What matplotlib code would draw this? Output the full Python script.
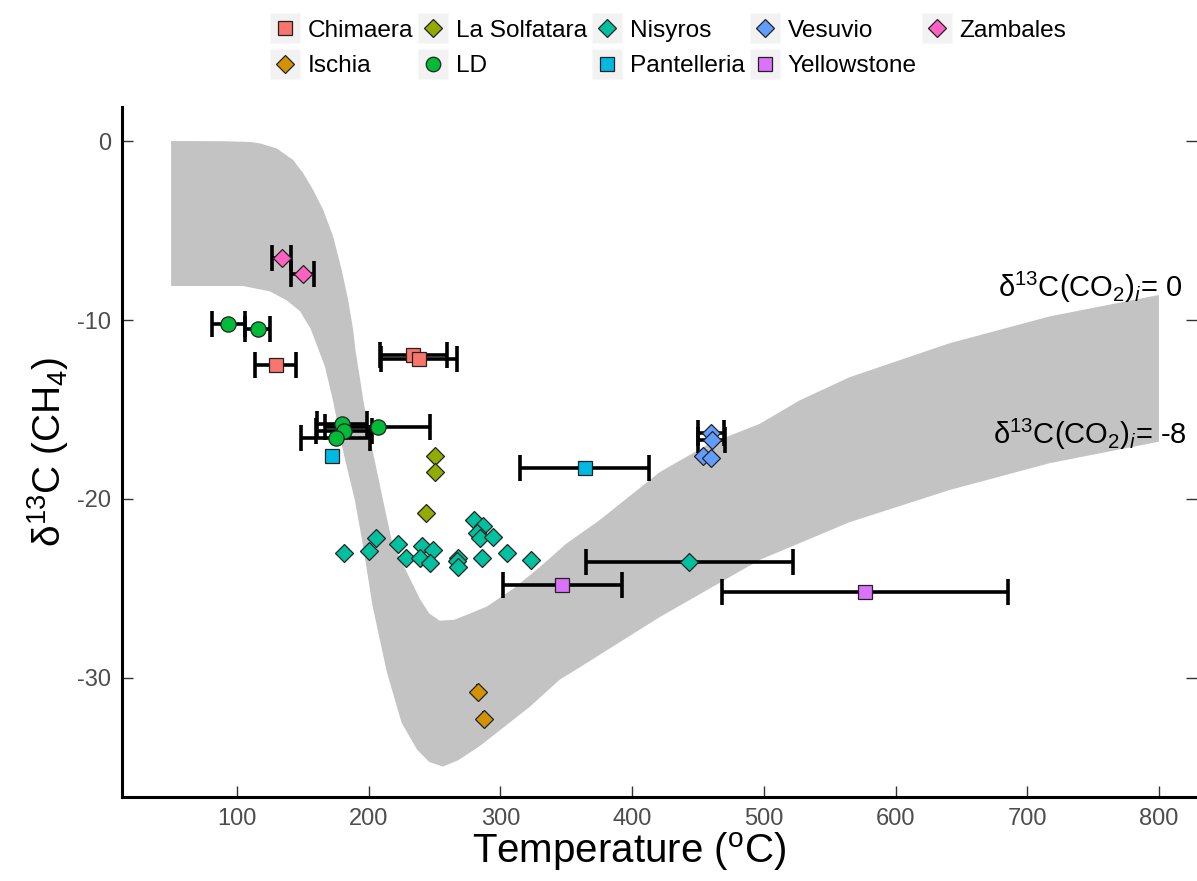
import numpy as np
import matplotlib
matplotlib.use("Agg")
import matplotlib.pyplot as plt
from matplotlib.lines import Line2D

plt.rcParams["font.family"] = ["Liberation Sans", "DejaVu Sans"]
plt.rcParams["mathtext.fontset"] = "custom"
plt.rcParams["mathtext.rm"] = "Liberation Sans"
plt.rcParams["mathtext.it"] = "Liberation Sans:italic"
plt.rcParams["mathtext.bf"] = "Liberation Sans:bold"
plt.rcParams["axes.unicode_minus"] = False

# model band: upper edge is d13C(CO2)i = 0, lower edge is d13C(CO2)i = -8
band_top_t = [50, 90, 110, 117.5, 130.1, 142.7, 150.3, 157.9, 165.5, 173.1, 179.5,
              184.5, 188.3, 190, 196, 203, 211, 218, 229, 239, 246, 254, 265, 277,
              290, 310, 330, 350, 375, 421, 459, 497, 527, 565, 641, 717, 800]
band_top_d = [0.0, -0.01, -0.05, -0.13, -0.41, -1.06, -1.8, -2.74, -3.85, -5.35, -7.2,
              -8.9, -10.6, -11.7, -14.5, -17.3, -20.1, -22.5, -24.1, -25.6, -26.4,
              -26.8, -26.75, -26.4, -26.0, -25.0, -23.8, -22.5, -21.2, -18.5, -16.9,
              -15.8, -14.5, -13.2, -11.3, -9.8, -8.6]
band_bot_t = [50, 104.6, 125, 137.7, 147.8, 156, 166.8, 172.9, 180.5, 189.6, 195.7,
              203, 213.9, 225, 236.7, 246, 256.4, 268, 284.5, 322.5, 345, 360.4, 421,
              497, 565, 641, 717, 800]
band_bot_d = [-8.1, -8.1, -8.4, -8.9, -9.5, -10.5, -12.6, -14.5, -17.3, -20.1, -22.6,
              -26.0, -29.7, -32.5, -34.0, -34.7, -34.95, -34.6, -33.8, -31.6, -30.1,
              -29.4, -26.6, -23.4, -21.3, -19.5, -18.0, -16.8]

# sites (legend order, alphabetical as in the original)
sites = ["Chimaera", "Ischia", "La Solfatara", "LD", "Nisyros", "Pantelleria",
         "Vesuvio", "Yellowstone", "Zambales"]
site_colors = ["#F8766D", "#D39200", "#93AA00", "#00BA38", "#00C19F", "#00B9E3",
               "#619CFF", "#DB72FB", "#FF61C3"]
site_markers = ["s", "D", "D", "o", "D", "s", "D", "s", "D"]

chimaera_t = [129.6, 233.9, 238.2]
chimaera_d = [-12.5, -11.97, -12.2]
chimaera_terr = [15.6, 25.5, 28.5]
chimaera_derr = [0, 0, 0]

ischia_t = [283.2, 287.8]
ischia_d = [-30.8, -32.3]
ischia_terr = [0, 0]
ischia_derr = [0.45, 0.45]

solfatara_t = [250.3, 250.3, 243.3]
solfatara_d = [-17.6, -18.5, -20.8]
solfatara_terr = [0, 0, 0]
solfatara_derr = [0, 0, 0]

ld_t = [93.4, 115.7, 179.5, 181.2, 174.9, 206.8]
ld_d = [-10.2, -10.5, -15.8, -16.2, -16.6, -16.0]
ld_terr = [12.7, 9.7, 19, 21, 26, 40]
ld_derr = [0, 0, 0, 0, 0, 0]

nisyros_t = [181.5, 200.5, 205.5, 222, 228.3, 240.2, 249, 239, 246.5, 268, 266.8,
             268, 280, 287, 282, 284.5, 294.6, 286.2, 305.2, 323.2, 443.4]
nisyros_d = [-23.0, -22.9, -22.2, -22.5, -23.3, -22.6, -22.85, -23.3, -23.55, -23.3,
             -23.45, -23.8, -21.2, -21.5, -21.9, -22.2, -22.1, -23.3, -23.0, -23.4,
             -23.5]
nisyros_terr = [0] * 20 + [78.7]
nisyros_derr = [0] * 18 + [0.4, 0.4, 0]

pantelleria_t = [172.4, 364.2]
pantelleria_d = [-17.6, -18.25]
pantelleria_terr = [0, 49]
pantelleria_derr = [0, 0]

vesuvio_t = [459.7, 460.4, 453.6, 459.7]
vesuvio_d = [-16.3, -16.7, -17.6, -17.7]
vesuvio_terr = [10, 10, 0, 0]
vesuvio_derr = [0, 0, 0, 0]

yellowstone_t = [347, 576.8]
yellowstone_d = [-24.8, -25.2]
yellowstone_terr = [45, 108.6]
yellowstone_derr = [0, 0]

zambales_t = [133.9, 149.9]
zambales_d = [-6.55, -7.43]
zambales_terr = [7.3, 8.6]
zambales_derr = [0, 0]

site_data = [
    (chimaera_t, chimaera_d, chimaera_terr, chimaera_derr),
    (ischia_t, ischia_d, ischia_terr, ischia_derr),
    (solfatara_t, solfatara_d, solfatara_terr, solfatara_derr),
    (ld_t, ld_d, ld_terr, ld_derr),
    (nisyros_t, nisyros_d, nisyros_terr, nisyros_derr),
    (pantelleria_t, pantelleria_d, pantelleria_terr, pantelleria_derr),
    (vesuvio_t, vesuvio_d, vesuvio_terr, vesuvio_derr),
    (yellowstone_t, yellowstone_d, yellowstone_terr, yellowstone_derr),
    (zambales_t, zambales_d, zambales_terr, zambales_derr),
]

fig = plt.figure(figsize=(11.97, 8.81), dpi=100)
ax = fig.add_axes([0.1019, 0.0954, 0.8981, 0.7831])

# grey model band
ax.fill(np.r_[band_top_t, band_bot_t[::-1]], np.r_[band_top_d, band_bot_d[::-1]],
        color="#c3c3c3", lw=0, zorder=1)

ax.text(818, -8.2, "δ$^{13}$C(CO$_2$)$_i$= 0", ha="right", va="center",
        fontsize=21, zorder=2)
ax.text(821, -16.4, "δ$^{13}$C(CO$_2$)$_i$= -8", ha="right", va="center",
        fontsize=21, zorder=2)

# error bars first, points on top
for t, d, terr, derr in site_data:
    t = np.array(t); d = np.array(d)
    terr = np.array(terr); derr = np.array(derr)
    m = terr > 0
    if m.any():
        ax.errorbar(t[m], d[m], xerr=terr[m], fmt="none", ecolor="black",
                    elinewidth=2.6, capsize=9.5, capthick=2.6, zorder=3)
    m = derr > 0
    if m.any():
        ax.errorbar(t[m], d[m], yerr=derr[m], fmt="none", ecolor="black",
                    elinewidth=2.6, capsize=0, zorder=3)

handles = []
for (t, d, terr, derr), name, col, mk in zip(site_data, sites, site_colors, site_markers):
    ms = {"s": 10.5, "o": 11, "D": 9.3}[mk]
    ax.plot(t, d, ls="", marker=mk, ms=ms, mfc=col, mec="#222222", mew=0.9, zorder=4)
    bg = Line2D([], [], ls="", marker="s", ms=21, mfc="#F2F2F2", mec="none")
    fg = Line2D([], [], ls="", marker=mk, ms=ms * 0.95, mfc=col, mec="#222222", mew=0.9)
    handles.append((bg, fg))

ax.set_xlim(12.7, 828.9)
ax.set_ylim(-36.65, 1.9)
ax.set_xticks([100, 200, 300, 400, 500, 600, 700, 800])
ax.set_yticks([0, -10, -20, -30])

for s in ["top", "right"]:
    ax.spines[s].set_visible(False)
for s in ["left", "bottom"]:
    ax.spines[s].set_linewidth(2.2)
    ax.spines[s].set_color("black")

ax.tick_params(direction="in", length=8, width=1, color="#333333",
               labelcolor="#4D4D4D", labelsize=17, pad=8, right=True)

ax.set_xlabel("Temperature ($^{\\mathrm{o}}$C)", fontsize=29)
ax.xaxis.set_label_coords(0.472, -0.048, transform=ax.transAxes)
ax.xaxis.label.set_va("top")
ax.set_ylabel("δ$^{13}$C (CH$_4$)", fontsize=28, labelpad=4)

fig.legend(handles, sites, ncol=5, loc="upper center", bbox_to_anchor=(0.558, 0.997),
           frameon=False, fontsize=17.6, handlelength=1.25, handletextpad=0.3,
           columnspacing=0.2, labelspacing=0.55, borderaxespad=0.3)

fig.savefig("out.png", dpi=100)
